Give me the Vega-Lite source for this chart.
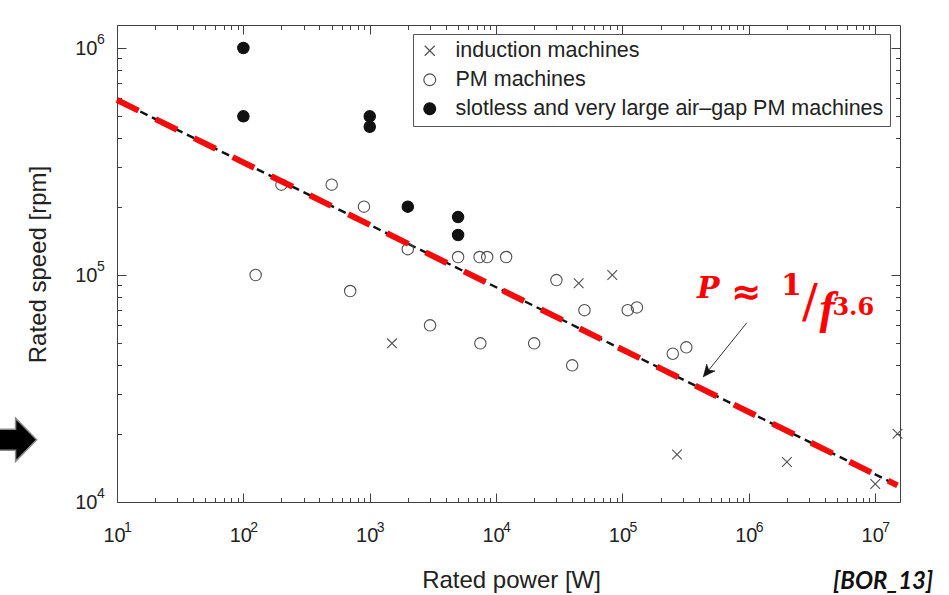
{
  "$schema": "https://vega.github.io/schema/vega-lite/v6.json",
  "width": 783,
  "height": 477,
  "autosize": {"type": "none"},
  "padding": {"left": 117, "top": 25, "right": 49, "bottom": 93},
  "background": "white",
  "config": {
    "font": "Liberation Sans",
    "view": {"stroke": null},
    "axis": {
      "grid": false,
      "domainColor": "#404040",
      "tickColor": "#404040",
      "domainWidth": 1,
      "tickWidth": 1,
      "labelFont": "Liberation Sans",
      "labelFontSize": 20,
      "labelColor": "#222222",
      "titleFont": "Liberation Sans",
      "titleFontSize": 24,
      "titleFontWeight": "normal",
      "titleColor": "#222222",
      "labelOverlap": false,
      "labelFlush": false,
      "labelBound": false
    },
    "legend": {
      "orient": "none",
      "legendX": 296,
      "legendY": 9,
      "padding": 6,
      "strokeColor": "#555555",
      "fillColor": "white",
      "labelFont": "Liberation Sans",
      "labelFontSize": 21.5,
      "labelColor": "#222222",
      "labelOffset": 15,
      "rowPadding": 6,
      "symbolSize": 140,
      "symbolStrokeWidth": 1.2,
      "labelLimit": 0
    }
  },
  "datasets": {
    "machines": [
      {"type": "induction machines", "power": 1500, "speed": 50000},
      {"type": "induction machines", "power": 45000, "speed": 92000},
      {"type": "induction machines", "power": 83000, "speed": 100000},
      {"type": "induction machines", "power": 270000, "speed": 16200},
      {"type": "induction machines", "power": 2000000, "speed": 15000},
      {"type": "induction machines", "power": 10000000, "speed": 12000},
      {"type": "induction machines", "power": 15000000, "speed": 20000},
      {"type": "PM machines", "power": 200, "speed": 250000},
      {"type": "PM machines", "power": 500, "speed": 250000},
      {"type": "PM machines", "power": 900, "speed": 200000},
      {"type": "PM machines", "power": 125, "speed": 100000},
      {"type": "PM machines", "power": 700, "speed": 85000},
      {"type": "PM machines", "power": 2000, "speed": 130000},
      {"type": "PM machines", "power": 5000, "speed": 120000},
      {"type": "PM machines", "power": 7400, "speed": 120000},
      {"type": "PM machines", "power": 8500, "speed": 120000},
      {"type": "PM machines", "power": 12000, "speed": 120000},
      {"type": "PM machines", "power": 30000, "speed": 95000},
      {"type": "PM machines", "power": 3000, "speed": 60000},
      {"type": "PM machines", "power": 7500, "speed": 50000},
      {"type": "PM machines", "power": 20000, "speed": 50000},
      {"type": "PM machines", "power": 40000, "speed": 40000},
      {"type": "PM machines", "power": 50000, "speed": 70000},
      {"type": "PM machines", "power": 110000, "speed": 70000},
      {"type": "PM machines", "power": 130000, "speed": 72000},
      {"type": "PM machines", "power": 250000, "speed": 45000},
      {"type": "PM machines", "power": 320000, "speed": 48000},
      {"type": "slotless and very large air–gap PM machines", "power": 100, "speed": 1000000},
      {"type": "slotless and very large air–gap PM machines", "power": 100, "speed": 500000},
      {"type": "slotless and very large air–gap PM machines", "power": 1000, "speed": 500000},
      {"type": "slotless and very large air–gap PM machines", "power": 1000, "speed": 450000},
      {"type": "slotless and very large air–gap PM machines", "power": 2000, "speed": 200000},
      {"type": "slotless and very large air–gap PM machines", "power": 5000, "speed": 180000},
      {"type": "slotless and very large air–gap PM machines", "power": 5000, "speed": 150000}
    ],
    "fit": [
      {"power": 10, "speed": 590000},
      {"power": 15000000, "speed": 11830}
    ],
    "pointer": [
      {"power": 963000, "speed": 61600},
      {"power": 436000, "speed": 35600}
    ],
    "pointerHead": [
      {"power": 436000, "speed": 35600}
    ],
    "exponents": [
      {"axis": "x", "exp": "1", "power": 10, "speed": 10000},
      {"axis": "x", "exp": "2", "power": 100, "speed": 10000},
      {"axis": "x", "exp": "3", "power": 1000, "speed": 10000},
      {"axis": "x", "exp": "4", "power": 10000, "speed": 10000},
      {"axis": "x", "exp": "5", "power": 100000, "speed": 10000},
      {"axis": "x", "exp": "6", "power": 1000000, "speed": 10000},
      {"axis": "x", "exp": "7", "power": 10000000, "speed": 10000},
      {"axis": "y", "exp": "4", "power": 10, "speed": 10000},
      {"axis": "y", "exp": "5", "power": 10, "speed": 100000},
      {"axis": "y", "exp": "6", "power": 10, "speed": 1000000}
    ],
    "notes": [
      {"note": "P", "power": 389000, "speed": 78900},
      {"note": "≈", "power": 950600, "speed": 83300},
      {"note": "1", "power": 1799000, "speed": 81600},
      {"note": "/", "power": 3041000, "speed": 65080},
      {"note": "f", "power": 3614000, "speed": 61160},
      {"note": "3.6", "power": 4580000, "speed": 66620},
      {"note": "[BOR_13]", "power": 28730000, "speed": 4120}
    ],
    "decor": [
      {"power": 1.414, "speed": 18806}
    ]
  },
  "layer": [
    {
      "data": {"name": "fit"},
      "mark": {"type": "line", "stroke": "#111111", "strokeWidth": 2.4, "strokeDash": [8, 5]},
      "encoding": {
        "x": {
          "field": "power", "type": "quantitative",
          "scale": {"type": "log", "domain": [10, 15700000], "nice": false},
          "axis": {
            "orient": "top",
            "values": [10,20,30,40,50,60,70,80,90,100,200,300,400,500,600,700,800,900,1000,2000,3000,4000,5000,6000,7000,8000,9000,10000,20000,30000,40000,50000,60000,70000,80000,90000,100000,200000,300000,400000,500000,600000,700000,800000,900000,1000000,2000000,3000000,4000000,5000000,6000000,7000000,8000000,9000000,10000000],
            "labels": false,
            "title": null,
            "tickSize": {"condition": {"test": "abs(log(datum.value)/LN10 - round(log(datum.value)/LN10)) < 0.001", "value": -9}, "value": -4.5}
          }
        },
        "y": {
          "field": "speed", "type": "quantitative",
          "scale": {"type": "log", "domain": [10000, 1263000], "nice": false},
          "axis": {
            "orient": "right",
            "values": [10000,20000,30000,40000,50000,60000,70000,80000,90000,100000,200000,300000,400000,500000,600000,700000,800000,900000,1000000],
            "labels": false,
            "title": null,
            "tickSize": {"condition": {"test": "abs(log(datum.value)/LN10 - round(log(datum.value)/LN10)) < 0.001", "value": -9}, "value": -4.5}
          }
        }
      }
    },
    {
      "data": {"name": "machines"},
      "mark": {"type": "point", "filled": true, "size": 130, "strokeWidth": 1.1, "opacity": 1},
      "encoding": {
        "x": {
          "field": "power", "type": "quantitative",
          "scale": {"type": "log", "domain": [10, 15700000], "nice": false},
          "axis": {
            "orient": "bottom",
            "values": [10,20,30,40,50,60,70,80,90,100,200,300,400,500,600,700,800,900,1000,2000,3000,4000,5000,6000,7000,8000,9000,10000,20000,30000,40000,50000,60000,70000,80000,90000,100000,200000,300000,400000,500000,600000,700000,800000,900000,1000000,2000000,3000000,4000000,5000000,6000000,7000000,8000000,9000000,10000000],
            "labelExpr": "abs(log(datum.value)/LN10 - round(log(datum.value)/LN10)) < 0.001 ? '10' : ''",
            "labelBaseline": "top",
            "labelPadding": 32,
            "labelOffset": -3,
            "tickSize": {"condition": {"test": "abs(log(datum.value)/LN10 - round(log(datum.value)/LN10)) < 0.001", "value": -9}, "value": -4.5},
            "title": "Rated power [W]",
            "titleX": 394,
            "titleY": 85,
            "titleBaseline": "alphabetic",
            "titleAlign": "center"
          }
        },
        "y": {
          "field": "speed", "type": "quantitative",
          "scale": {"type": "log", "domain": [10000, 1263000], "nice": false},
          "axis": {
            "orient": "left",
            "values": [10000,20000,30000,40000,50000,60000,70000,80000,90000,100000,200000,300000,400000,500000,600000,700000,800000,900000,1000000],
            "labelExpr": "abs(log(datum.value)/LN10 - round(log(datum.value)/LN10)) < 0.001 ? '10' : ''",
            "labelBaseline": "middle",
            "labelAlign": "right",
            "labelPadding": 29,
            "tickSize": {"condition": {"test": "abs(log(datum.value)/LN10 - round(log(datum.value)/LN10)) < 0.001", "value": -9}, "value": -4.5},
            "title": "Rated speed [rpm]",
            "titleX": -72,
            "titleY": 239,
            "titleAngle": -90,
            "titleBaseline": "alphabetic",
            "titleAlign": "center"
          }
        },
        "shape": {
          "field": "type", "type": "nominal",
          "scale": {
            "domain": ["induction machines", "PM machines", "slotless and very large air–gap PM machines"],
            "range": ["M-0.85,-0.85L0.85,0.85M-0.85,0.85L0.85,-0.85", "circle", "circle"]
          },
          "legend": {"title": null}
        },
        "fill": {
          "field": "type", "type": "nominal",
          "scale": {
            "domain": ["induction machines", "PM machines", "slotless and very large air–gap PM machines"],
            "range": ["transparent", "transparent", "#111111"]
          },
          "legend": {"title": null}
        },
        "stroke": {
          "field": "type", "type": "nominal",
          "scale": {
            "domain": ["induction machines", "PM machines", "slotless and very large air–gap PM machines"],
            "range": ["#505050", "#505050", "#111111"]
          },
          "legend": {"title": null}
        }
      }
    },
    {
      "data": {"name": "exponents"},
      "transform": [{"filter": "datum.axis == 'x'"}],
      "mark": {"type": "text", "font": "Liberation Sans", "fontSize": 14, "align": "left", "baseline": "alphabetic", "dx": 7, "dy": 30, "fill": "#222222"},
      "encoding": {
        "x": {"field": "power", "type": "quantitative", "scale": {"type": "log", "domain": [10, 15700000], "nice": false}, "axis": null},
        "y": {"field": "speed", "type": "quantitative", "scale": {"type": "log", "domain": [10000, 1263000], "nice": false}, "axis": null},
        "text": {"field": "exp"}
      }
    },
    {
      "data": {"name": "exponents"},
      "transform": [{"filter": "datum.axis == 'y'"}],
      "mark": {"type": "text", "font": "Liberation Sans", "fontSize": 14, "align": "left", "baseline": "alphabetic", "dx": -20, "dy": -4.5, "fill": "#222222"},
      "encoding": {
        "x": {"field": "power", "type": "quantitative", "scale": {"type": "log", "domain": [10, 15700000], "nice": false}, "axis": null},
        "y": {"field": "speed", "type": "quantitative", "scale": {"type": "log", "domain": [10000, 1263000], "nice": false}, "axis": null},
        "text": {"field": "exp"}
      }
    },
    {
      "data": {"name": "fit"},
      "mark": {"type": "line", "stroke": "#f20c0c", "strokeWidth": 6, "strokeDash": [24, 19]},
      "encoding": {
        "x": {"field": "power", "type": "quantitative", "scale": {"type": "log", "domain": [10, 15700000], "nice": false}, "axis": null},
        "y": {"field": "speed", "type": "quantitative", "scale": {"type": "log", "domain": [10000, 1263000], "nice": false}, "axis": null}
      }
    },
    {
      "data": {"name": "pointer"},
      "mark": {"type": "line", "stroke": "#333333", "strokeWidth": 1},
      "encoding": {
        "x": {"field": "power", "type": "quantitative", "scale": {"type": "log", "domain": [10, 15700000], "nice": false}, "axis": null},
        "y": {"field": "speed", "type": "quantitative", "scale": {"type": "log", "domain": [10000, 1263000], "nice": false}, "axis": null}
      }
    },
    {
      "data": {"name": "pointerHead"},
      "mark": {"type": "point", "shape": "M0,0L-0.45,1L0,0.72L0.45,1Z", "size": 576, "angle": 219, "filled": true, "fill": "#111111", "stroke": "#111111", "strokeWidth": 0.5, "opacity": 1},
      "encoding": {
        "x": {"field": "power", "type": "quantitative", "scale": {"type": "log", "domain": [10, 15700000], "nice": false}, "axis": null},
        "y": {"field": "speed", "type": "quantitative", "scale": {"type": "log", "domain": [10000, 1263000], "nice": false}, "axis": null}
      }
    },
    {
      "data": {"name": "notes"},
      "transform": [{"filter": "datum.note == 'P'"}],
      "mark": {"type": "text", "font": "DejaVu Serif", "fontStyle": "italic", "fontWeight": "bold", "fontSize": 30, "align": "left", "baseline": "alphabetic", "fill": "#ff0000"},
      "encoding": {
        "x": {"field": "power", "type": "quantitative", "scale": {"type": "log", "domain": [10, 15700000], "nice": false}, "axis": null},
        "y": {"field": "speed", "type": "quantitative", "scale": {"type": "log", "domain": [10000, 1263000], "nice": false}, "axis": null},
        "text": {"field": "note"}
      }
    },
    {
      "data": {"name": "notes"},
      "transform": [{"filter": "datum.note == '≈'"}],
      "mark": {"type": "text", "font": "DejaVu Sans", "fontWeight": "bold", "fontSize": 36, "align": "center", "baseline": "middle", "fill": "#ff0000"},
      "encoding": {
        "x": {"field": "power", "type": "quantitative", "scale": {"type": "log", "domain": [10, 15700000], "nice": false}, "axis": null},
        "y": {"field": "speed", "type": "quantitative", "scale": {"type": "log", "domain": [10000, 1263000], "nice": false}, "axis": null},
        "text": {"field": "note"}
      }
    },
    {
      "data": {"name": "notes"},
      "transform": [{"filter": "datum.note == '1'"}],
      "mark": {"type": "text", "font": "DejaVu Serif", "fontWeight": "bold", "fontSize": 30, "align": "left", "baseline": "alphabetic", "fill": "#ff0000"},
      "encoding": {
        "x": {"field": "power", "type": "quantitative", "scale": {"type": "log", "domain": [10, 15700000], "nice": false}, "axis": null},
        "y": {"field": "speed", "type": "quantitative", "scale": {"type": "log", "domain": [10000, 1263000], "nice": false}, "axis": null},
        "text": {"field": "note"}
      }
    },
    {
      "data": {"name": "notes"},
      "transform": [{"filter": "datum.note == '/'"}],
      "mark": {"type": "text", "font": "DejaVu Serif", "fontSize": 47, "align": "center", "baseline": "alphabetic", "fill": "#ff0000"},
      "encoding": {
        "x": {"field": "power", "type": "quantitative", "scale": {"type": "log", "domain": [10, 15700000], "nice": false}, "axis": null},
        "y": {"field": "speed", "type": "quantitative", "scale": {"type": "log", "domain": [10000, 1263000], "nice": false}, "axis": null},
        "text": {"field": "note"}
      }
    },
    {
      "data": {"name": "notes"},
      "transform": [{"filter": "datum.note == 'f'"}],
      "mark": {"type": "text", "font": "Liberation Serif", "fontStyle": "italic", "fontWeight": "bold", "fontSize": 46, "align": "left", "baseline": "alphabetic", "fill": "#ff0000"},
      "encoding": {
        "x": {"field": "power", "type": "quantitative", "scale": {"type": "log", "domain": [10, 15700000], "nice": false}, "axis": null},
        "y": {"field": "speed", "type": "quantitative", "scale": {"type": "log", "domain": [10000, 1263000], "nice": false}, "axis": null},
        "text": {"field": "note"}
      }
    },
    {
      "data": {"name": "notes"},
      "transform": [{"filter": "datum.note == '3.6'"}],
      "mark": {"type": "text", "font": "DejaVu Serif", "fontWeight": "bold", "fontSize": 24, "align": "left", "baseline": "alphabetic", "fill": "#ff0000"},
      "encoding": {
        "x": {"field": "power", "type": "quantitative", "scale": {"type": "log", "domain": [10, 15700000], "nice": false}, "axis": null},
        "y": {"field": "speed", "type": "quantitative", "scale": {"type": "log", "domain": [10000, 1263000], "nice": false}, "axis": null},
        "text": {"field": "note"}
      }
    },
    {
      "data": {"name": "notes"},
      "transform": [{"filter": "datum.note == '[BOR_13]'"}],
      "mark": {"type": "text", "font": "Lato", "fontStyle": "italic", "fontWeight": "bold", "fontSize": 24, "align": "right", "baseline": "alphabetic", "fill": "#111111"},
      "encoding": {
        "x": {"field": "power", "type": "quantitative", "scale": {"type": "log", "domain": [10, 15700000], "nice": false}, "axis": null},
        "y": {"field": "speed", "type": "quantitative", "scale": {"type": "log", "domain": [10000, 1263000], "nice": false}, "axis": null},
        "text": {"field": "note"}
      }
    },
    {
      "data": {"name": "decor"},
      "mark": {"type": "point", "shape": "M-1,-0.39L0.22,-0.39L0.22,-0.8L1,0L0.22,0.8L0.22,0.39L-1,0.39Z", "size": 2916, "filled": true, "fill": "#000000", "stroke": "#8a8a8a", "strokeWidth": 1.5, "opacity": 1},
      "encoding": {
        "x": {"field": "power", "type": "quantitative", "scale": {"type": "log", "domain": [10, 15700000], "nice": false}, "axis": null},
        "y": {"field": "speed", "type": "quantitative", "scale": {"type": "log", "domain": [10000, 1263000], "nice": false}, "axis": null}
      }
    }
  ],
  "resolve": {"axis": {"x": "independent", "y": "independent"}}
}
